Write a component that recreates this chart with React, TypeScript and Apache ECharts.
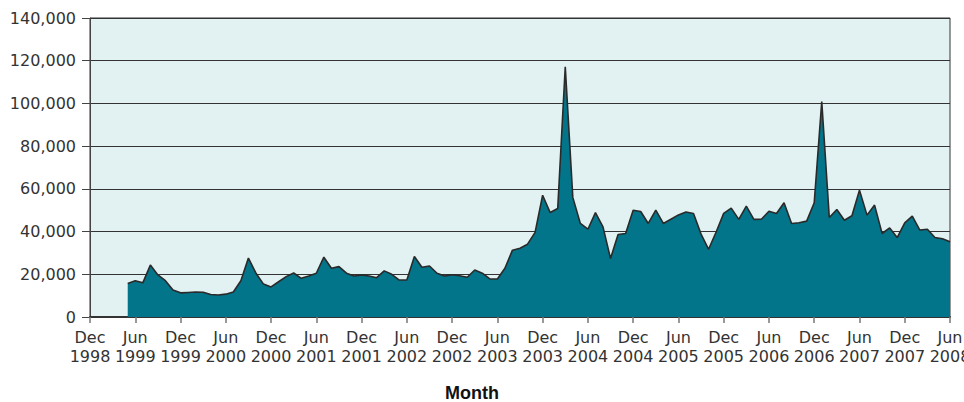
import React, { useEffect, useRef } from "react";
import * as echarts from "echarts";

const MONTH_NAMES = ["Jan", "Feb", "Mar", "Apr", "May", "Jun", "Jul", "Aug", "Sep", "Oct", "Nov", "Dec"];

// Categories: Dec 1998 .. Jun 2008 (monthly)
const categories: string[] = [];
for (let i = 0; i <= 114; i++) {
  const m = (11 + i) % 12;
  const y = 1998 + Math.floor((11 + i) / 12);
  categories.push(`${MONTH_NAMES[m]}\n${y}`);
}

// Monthly values from May 1999 to Jun 2008 (months before are empty)
const leadingEmpty = 5;
const values: number[] = [
  15700, 17000, 16000, 24300, 19700, 17000, 12600, 11300,
  11500, 11700, 11600, 10500, 10300, 10700, 11700, 17000, 27600, 20500, 15400, 14100,
  16500, 18900, 20600, 18100, 19200, 20500, 28000, 22800, 23600, 20500, 19200, 19700,
  19200, 18400, 21600, 20000, 17300, 17300, 28300, 23300, 23900, 20500, 19200, 19800,
  19300, 18600, 22000, 20500, 17800, 17800, 22800, 31300, 32200, 34100, 39600, 57000,
  48900, 50800, 117200, 56000, 43800, 41100, 48900, 42200, 27400, 38600, 39100, 50000,
  49400, 43800, 50000, 43800, 45800, 47800, 49200, 48500, 38800, 31700, 39800, 48500,
  51000, 45700, 51900, 45700, 45800, 49500, 48500, 53500, 43800, 44100, 44900, 53500,
  100900, 46600, 50300, 45300, 47400, 59400, 47700, 52400, 39100, 41700, 37200, 44100,
  47200, 40700, 41100, 37200, 36600, 35200,
];

const seriesData: (number | null)[] = [
  ...Array(leadingEmpty).fill(null),
  ...values,
];

const yTicks = { min: 0, max: 140000, interval: 20000 };
const xTitle = "Month";

export default function App() {
  const ref = useRef<HTMLDivElement>(null);
  useEffect(() => {
    if (!ref.current) return;
    const chart = echarts.init(ref.current, null, { renderer: "svg" });
    const font = "DejaVu Sans";
    chart.setOption({
      animation: false,
      backgroundColor: "#ffffff",
      grid: {
        left: 90,
        right: 14,
        top: 18,
        bottom: 85,
        containLabel: false,
        outerBoundsMode: "none",
        show: true,
        backgroundColor: "#e2f1f1",
        borderColor: "#333333",
        borderWidth: 1,
      },
      graphic: [
        {
          type: "text",
          x: 472,
          y: 393,
          style: {
            text: xTitle,
            fontFamily: "Liberation Sans",
            fontSize: 18,
            fontWeight: "bold",
            fill: "#111",
            textAlign: "center",
            textVerticalAlign: "middle",
          },
        },
      ],
      xAxis: {
        type: "category",
        data: categories,
        boundaryGap: false,
        axisLine: { lineStyle: { color: "#333", width: 2 } },
        axisTick: { interval: 5, length: 6, lineStyle: { color: "#777", width: 1.5 } },
        axisLabel: {
          interval: 5,
          fontFamily: font,
          fontSize: 16,
          color: "#333",
          lineHeight: 19,
          margin: 11,
        },
        splitLine: { show: false },
      },
      yAxis: {
        type: "value",
        min: yTicks.min,
        max: yTicks.max,
        interval: yTicks.interval,
        axisLine: { show: true, lineStyle: { color: "#444", width: 1 } },
        axisTick: { show: true, length: 8, lineStyle: { color: "#444" } },
        axisLabel: {
          fontFamily: font,
          fontSize: 16,
          color: "#333",
          margin: 14,
          formatter: (v: number) => v.toLocaleString("en-US"),
        },
        splitLine: { show: true, lineStyle: { color: "#333", width: 1 } },
      },
      series: [
        {
          type: "line",
          data: seriesData,
          symbol: "none",
          connectNulls: false,
          lineStyle: { color: "#2a2a2a", width: 1.6 },
          areaStyle: { color: "#02758a", opacity: 1 },
          z: 3,
        },
      ],
    });
    return () => chart.dispose();
  }, []);
  return (
    <div
      ref={ref}
      style={{ position: "absolute", left: 0, top: 0, width: 964, height: 402 }}
    />
  );
}
